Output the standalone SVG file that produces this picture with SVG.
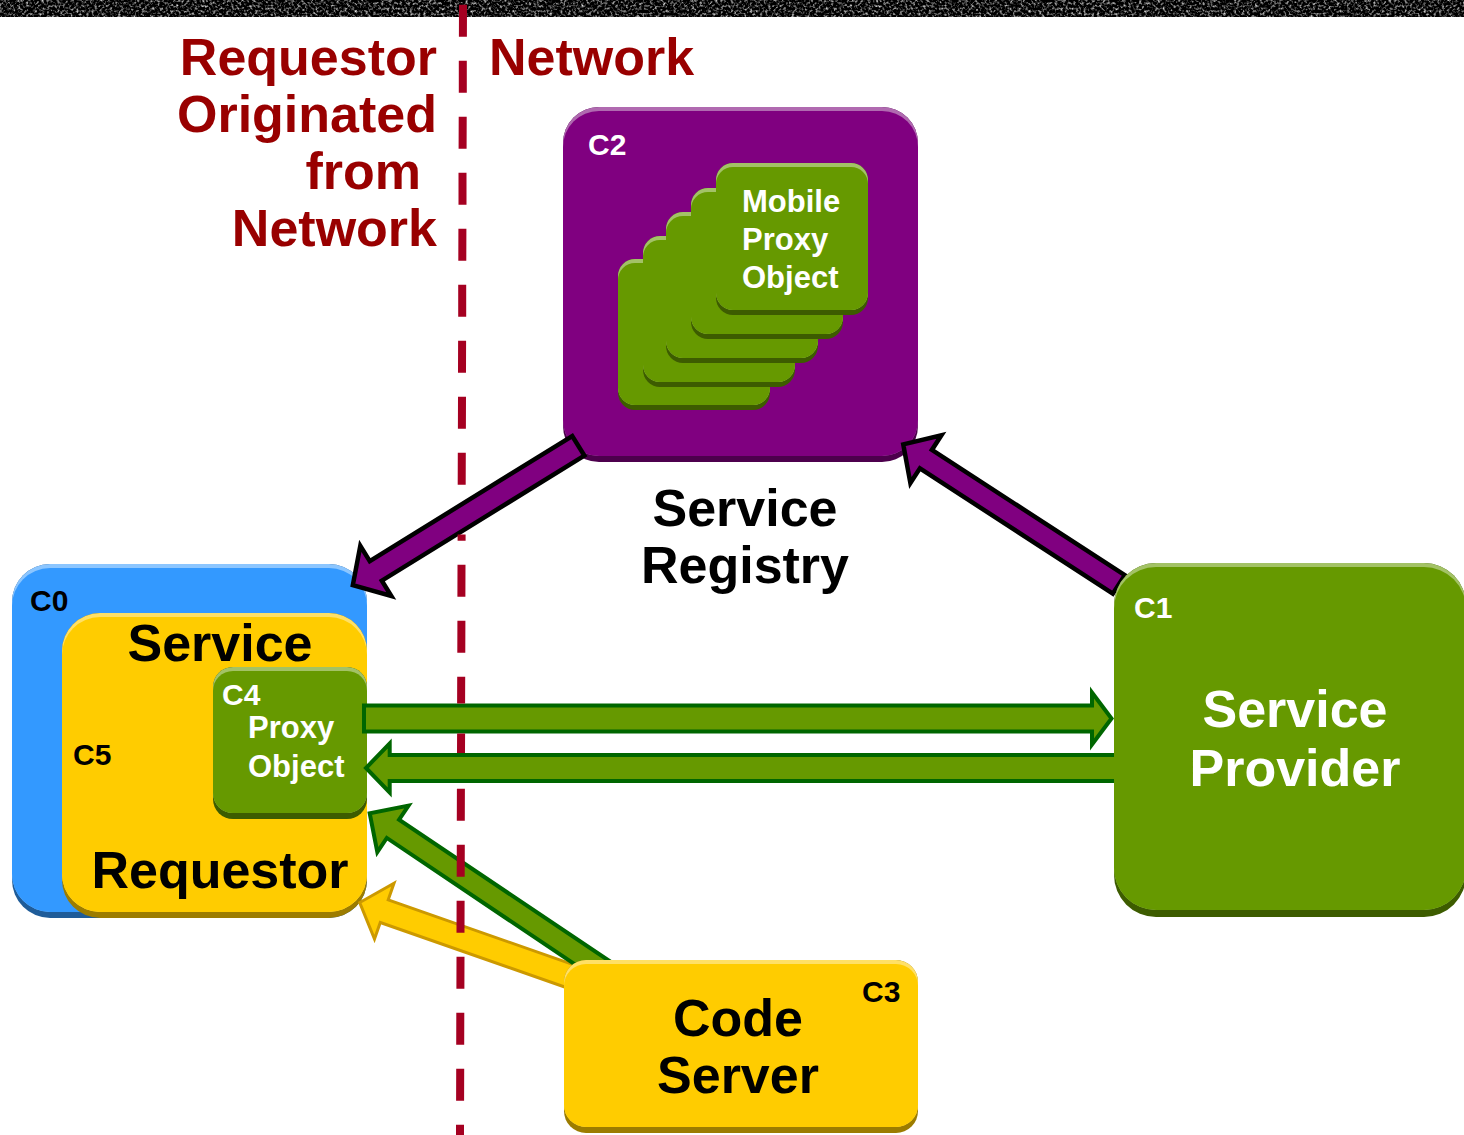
<svg xmlns="http://www.w3.org/2000/svg" width="1464" height="1135" viewBox="0 0 1464 1135">
  <defs>
    <filter id="grain" x="0" y="0" width="1" height="1" color-interpolation-filters="sRGB">
      <feTurbulence type="fractalNoise" baseFrequency="0.38" numOctaves="2" seed="7"/>
      <feColorMatrix type="matrix" values="2.1 0 0 0 -0.98  2.1 0 0 0 -0.98  2.1 0 0 0 -0.98  0 0 0 0 1"/>
    </filter>
    <style>
      text { font-family: "Liberation Sans", Arial, Helvetica, sans-serif; font-weight: bold; }
      .head { fill: #990000; font-size: 52px; }
      .big { font-size: 52px; }
      .tag { font-size: 30px; }
      .mid { font-size: 31px; }
      .white { fill: #ffffff; }
      .black { fill: #000000; }
      .pu-d { fill: #4d004d; } .pu-h { fill: #b06ab0; } .pu { fill: #800080; }
      .gr-d { fill: #3d5c00; } .gr-h { fill: #a3c266; } .gr { fill: #669900; }
      .bl-d { fill: #1f5c99; } .bl-h { fill: #8cc6ff; } .bl { fill: #3399ff; }
      .ye-d { fill: #9c7c00; } .ye-h { fill: #ffe066; } .ye { fill: #ffcc00; }
      .arrow-registry { fill: #800080; stroke: #000000; stroke-width: 4.5; stroke-linejoin: miter; }
      .arrow-proxy { fill: #669900; stroke: #006600; stroke-width: 4; stroke-linejoin: miter; }
      .arrow-code { fill: #ffcc00; stroke: #cc9900; stroke-width: 3; stroke-linejoin: miter; }
      .divider { fill: none; stroke: #a50021; stroke-width: 8; stroke-linecap: butt; }
    </style>
  </defs>

  <rect x="0" y="0" width="1464" height="1135" fill="#ffffff"/>
  <!-- grainy strip along the top edge -->
  <rect x="0" y="0" width="1464" height="17" fill="#111" filter="url(#grain)"/>

  <!-- side headings -->
  <g id="headings">
    <text class="head" x="437" y="75" text-anchor="end">Requestor</text>
    <text class="head" x="437" y="132" text-anchor="end">Originated</text>
    <text class="head" x="421" y="189" text-anchor="end">from</text>
    <text class="head" x="437" y="246" text-anchor="end">Network</text>
    <text class="head" x="489" y="75">Network</text>
  </g>

  <!-- C2: service registry holding mobile proxy objects -->
  <g id="node-c2">
    <rect class="pu-d" x="563" y="107" width="355" height="355" rx="36"/>
    <rect class="pu-h" x="563" y="107" width="355" height="349" rx="36"/>
    <rect class="pu" x="563" y="111" width="355" height="345" rx="36"/>
    <text class="tag white" x="588" y="155">C2</text>
    <g id="proxy-stack">
      <rect class="gr-d" x="618" y="259" width="152" height="151" rx="17"/>
      <rect class="gr-h" x="618" y="259" width="152" height="146" rx="17"/>
      <rect class="gr" x="618" y="263" width="152" height="142" rx="17"/>

      <rect class="gr-d" x="643" y="236" width="152" height="151" rx="17"/>
      <rect class="gr-h" x="643" y="236" width="152" height="146" rx="17"/>
      <rect class="gr" x="643" y="240" width="152" height="142" rx="17"/>

      <rect class="gr-d" x="666" y="212" width="152" height="151" rx="17"/>
      <rect class="gr-h" x="666" y="212" width="152" height="146" rx="17"/>
      <rect class="gr" x="666" y="216" width="152" height="142" rx="17"/>

      <rect class="gr-d" x="691" y="188" width="152" height="151" rx="17"/>
      <rect class="gr-h" x="691" y="188" width="152" height="146" rx="17"/>
      <rect class="gr" x="691" y="192" width="152" height="142" rx="17"/>

      <rect class="gr-d" x="716" y="163" width="152" height="152" rx="17"/>
      <rect class="gr-h" x="716" y="163" width="152" height="147" rx="17"/>
      <rect class="gr" x="716" y="167" width="152" height="143" rx="17"/>
      <text class="mid white" x="742" y="212">Mobile</text>
      <text class="mid white" x="742" y="250">Proxy</text>
      <text class="mid white" x="742" y="288">Object</text>
    </g>
    <text class="big black" x="745" y="526" text-anchor="middle">Service</text>
    <text class="big black" x="745" y="583" text-anchor="middle">Registry</text>
  </g>

  <!-- C0: requestor host, with C5 service requestor and C4 proxy object -->
  <g id="node-c0">
    <rect class="bl-d" x="12" y="564" width="355" height="354" rx="38"/>
    <rect class="bl-h" x="12" y="564" width="355" height="348" rx="38"/>
    <rect class="bl" x="12" y="568" width="355" height="344" rx="38"/>
    <text class="tag black" x="30" y="611">C0</text>
    <g id="node-c5">
      <rect class="ye-d" x="62" y="613" width="305" height="305" rx="38"/>
      <rect class="ye-h" x="62" y="613" width="305" height="299" rx="38"/>
      <rect class="ye" x="62" y="617" width="305" height="295" rx="38"/>
      <text class="big black" x="220" y="661" text-anchor="middle">Service</text>
      <text class="tag black" x="73" y="765">C5</text>
      <text class="big black" x="220" y="888" text-anchor="middle">Requestor</text>
    </g>
    <g id="node-c4">
      <rect class="gr-d" x="213" y="667" width="154" height="152" rx="20"/>
      <rect class="gr-h" x="213" y="667" width="154" height="146" rx="20"/>
      <rect class="gr" x="213" y="671" width="154" height="142" rx="20"/>
      <text class="tag white" x="222" y="705">C4</text>
      <text class="mid white" x="248" y="738">Proxy</text>
      <text class="mid white" x="248" y="777">Object</text>
    </g>
  </g>

  <!-- connectors: block arrows drawn along their own axis -->
  <g id="connectors">
    <!-- code server to requestor (code) -->
    <polygon class="arrow-code" transform="translate(590,983.2) rotate(-160.7)"
             points="0,-12 218,-12 218,-29.5 244,0 218,29.5 218,12 0,12"/>
    <!-- code server to proxy object -->
    <polygon class="arrow-proxy" transform="translate(606,972) rotate(-146.1)"
             points="0,-11 256.7,-11 256.7,-28 284.7,0 256.7,28 256.7,11 0,11"/>
    <!-- proxy object to service provider -->
    <polygon class="arrow-proxy"
             points="364,705.5 1092,705.5 1092,692.5 1111.5,718.5 1092,744.5 1092,731.5 364,731.5"/>
    <!-- service provider back to proxy object -->
    <polygon class="arrow-proxy"
             points="1130,755 389.7,755 389.7,743.5 366,768 389.7,792.5 389.7,781 1130,781"/>
    <!-- registry to requestor host -->
    <polygon class="arrow-registry" transform="translate(578.3,445.8) rotate(148.3)"
             points="0,-11.5 238,-11.5 238,-29.5 265,0 238,29.5 238,11.5 0,11.5"/>
    <!-- service provider registers with registry -->
    <polygon class="arrow-registry" transform="translate(1118.8,584.4) rotate(-147)"
             points="0,-11 230,-11 230,-28.5 257,0 230,28.5 230,11 0,11"/>
  </g>

  <!-- C1: service provider -->
  <g id="node-c1">
    <rect class="gr-d" x="1114" y="563" width="352" height="354" rx="42"/>
    <rect class="gr-h" x="1114" y="563" width="352" height="347" rx="42"/>
    <rect class="gr" x="1114" y="567" width="352" height="343" rx="42"/>
    <text class="tag white" x="1134" y="618">C1</text>
    <text class="big white" x="1295" y="727" text-anchor="middle">Service</text>
    <text class="big white" x="1295" y="786" text-anchor="middle">Provider</text>
  </g>

  <!-- C3: code server -->
  <g id="node-c3">
    <rect class="ye-d" x="564" y="960" width="354" height="173" rx="22"/>
    <rect class="ye-h" x="564" y="960" width="354" height="167" rx="22"/>
    <rect class="ye" x="564" y="964" width="354" height="163" rx="22"/>
    <text class="tag black" x="862" y="1002">C3</text>
    <text class="big black" x="738" y="1036" text-anchor="middle">Code</text>
    <text class="big black" x="738" y="1093" text-anchor="middle">Server</text>
  </g>

  <!-- requestor / network boundary; dashes hidden where the upper arrows pass -->
  <path class="divider" d="
    M463,4.7 L462.9,36.7
    M462.8,60.7 L462.8,92.7
    M462.7,116.7 L462.6,148.7
    M462.5,172.7 L462.5,204.7
    M462.4,228.7 L462.3,260.7
    M462.2,284.7 L462.2,316.7
    M462.1,340.7 L462,372.7
    M462,396.7 L461.9,428.7
    M461.8,452.7 L461.7,484.7
    M461.6,534.5 L461.6,540.7
    M461.5,564.7 L461.4,596.7
    M461.4,620.7 L461.3,652.7
    M461.2,676.7 L461.1,703.5
    M461.1,733.5 L461,753
    M460.9,788.7 L460.8,820.7
    M460.8,844.7 L460.7,876.7
    M460.6,900.7 L460.5,932.7
    M460.5,956.7 L460.4,988.7
    M460.3,1012.7 L460.2,1044.7
    M460.2,1068.7 L460.1,1100.7
    M460,1124.7 L460,1135"/>
</svg>
